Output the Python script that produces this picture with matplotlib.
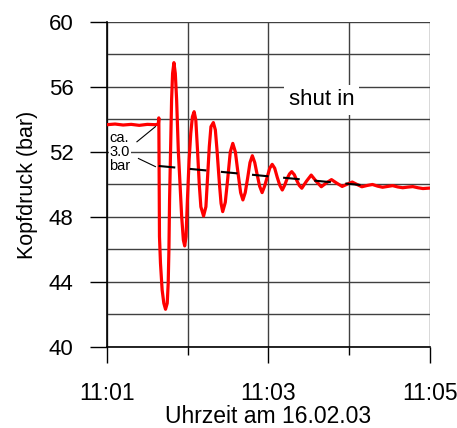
import numpy as np
import matplotlib
matplotlib.use('Agg')
import matplotlib.pyplot as plt
from matplotlib.ticker import MultipleLocator

plt.rcParams['font.family'] = ['Liberation Sans', 'DejaVu Sans']

# Kopfdruck, Zeit in Minuten nach 11:01
time_min = [0.0, 0.1, 0.2, 0.3, 0.4, 0.5, 0.6, 0.636, 0.642, 0.65,
            0.6625, 0.683, 0.704, 0.725, 0.746, 0.758, 0.767, 0.775, 0.7875, 0.8,
            0.8125, 0.829, 0.846, 0.8625, 0.883, 0.904, 0.925, 0.946, 0.9625, 0.979,
            0.996, 1.017, 1.0375, 1.058, 1.079, 1.1, 1.121, 1.142, 1.1625, 1.196,
            1.225, 1.246, 1.267, 1.2875, 1.317, 1.342, 1.3625, 1.392, 1.4125, 1.433,
            1.465, 1.496, 1.527, 1.558, 1.59, 1.62, 1.655, 1.683, 1.712, 1.742,
            1.771, 1.8, 1.83, 1.86, 1.89, 1.921, 1.952, 1.984, 2.015, 2.046,
            2.077, 2.108, 2.14, 2.171, 2.2, 2.23, 2.26, 2.2875, 2.32, 2.35,
            2.38, 2.4125, 2.47, 2.529, 2.59, 2.654, 2.717, 2.78, 2.846, 2.9125,
            2.975, 3.0375, 3.097, 3.156, 3.222, 3.2875, 3.35, 3.4125, 3.475, 3.5375,
            3.6, 3.6625, 3.725, 3.7875, 3.85, 3.9125, 4.0]
pressure = [53.68, 53.72, 53.66, 53.70, 53.64, 53.70, 53.68, 53.72, 54.10, 46.80,
            45.15, 43.51, 42.69, 42.32, 42.69, 43.92, 45.97, 49.05, 52.12, 55.20,
            56.84, 57.50, 56.84, 55.20, 52.12, 50.07, 48.02, 46.58, 46.22, 46.79,
            49.05, 51.51, 53.15, 54.17, 54.48, 53.97, 52.12, 50.07, 48.63, 48.06,
            48.63, 50.48, 52.33, 53.56, 53.81, 53.36, 52.12, 50.07, 48.84, 48.33,
            48.90, 50.40, 52.00, 52.53, 52.00, 50.80, 49.50, 49.05, 49.50, 50.40,
            51.35, 51.77, 51.35, 50.60, 49.90, 49.50, 49.90, 50.45, 51.00, 51.24,
            51.00, 50.45, 49.95, 49.66, 49.95, 50.35, 50.65, 50.79, 50.60, 50.25,
            49.95, 49.77, 50.20, 50.58, 50.20, 49.86, 50.10, 50.30, 50.08, 49.88,
            50.02, 50.15, 50.00, 49.86, 49.94, 50.00, 49.90, 49.83, 49.88, 49.93,
            49.85, 49.80, 49.84, 49.87, 49.80, 49.75, 49.78]

# gestrichelte Ausgleichslinie
trend_t = [0.64, 3.14]
trend_p = [51.14, 49.97]

x_ticks = [0, 2, 4]
x_labels = ['11:01', '11:03', '11:05']
y_ticks = [40, 44, 48, 52, 56, 60]

fig = plt.figure(figsize=(4.57, 4.28), dpi=100)
ax = fig.add_axes([0.2341, 0.1893, 0.7068, 0.7593])

ax.plot(time_min, pressure, color='#ff0000', lw=2.3, solid_joinstyle='round', zorder=4)
ax.plot(trend_t, trend_p, color='black', lw=1.5, linestyle=(0, (8, 7)), zorder=5)

# Beschriftung Druckdifferenz
ax.text(0.03, 52.0, 'ca.\n3.0\nbar', fontsize=10.5, ha='left', va='center',
        linespacing=1.0, bbox=dict(facecolor='white', edgecolor='none', pad=0.5), zorder=6)
ax.plot([0.371, 0.6], [52.63, 53.56], color='black', lw=0.8, zorder=6)
ax.plot([0.39, 0.6], [51.6, 51.1], color='black', lw=0.8, zorder=6)

ax.text(2.25, 55.2, 'shut in', fontsize=16, ha='left', va='center',
        bbox=dict(facecolor='white', edgecolor='none', pad=3), zorder=6)

ax.set_xlim(0, 4)
ax.set_ylim(40, 60)
ax.set_xticks(x_ticks)
ax.set_xticklabels(x_labels)
ax.xaxis.set_minor_locator(MultipleLocator(1))
ax.set_yticks(y_ticks)
ax.yaxis.set_minor_locator(MultipleLocator(2))

ax.grid(True, which='both', color='#404040', lw=1.0, zorder=1)
ax.set_axisbelow(True)

ax.tick_params(axis='both', which='major', direction='out', width=1)
ax.tick_params(axis='x', which='major', labelsize=16.5, length=11.5, pad=14)
ax.tick_params(axis='x', which='minor', length=6, direction='out', width=1)
ax.tick_params(axis='y', which='major', labelsize=16, length=12, pad=12)
ax.tick_params(axis='y', which='minor', length=0)

for s in ['top', 'right']:
    ax.spines[s].set_visible(False)
ax.spines['left'].set_linewidth(1.2)
ax.spines['bottom'].set_linewidth(1.2)

ax.set_xlabel('Uhrzeit am 16.02.03', fontsize=16.5, labelpad=0)
ax.set_ylabel('Kopfdruck (bar)', fontsize=15.5, labelpad=8)

fig.savefig('out.png', dpi=100)
